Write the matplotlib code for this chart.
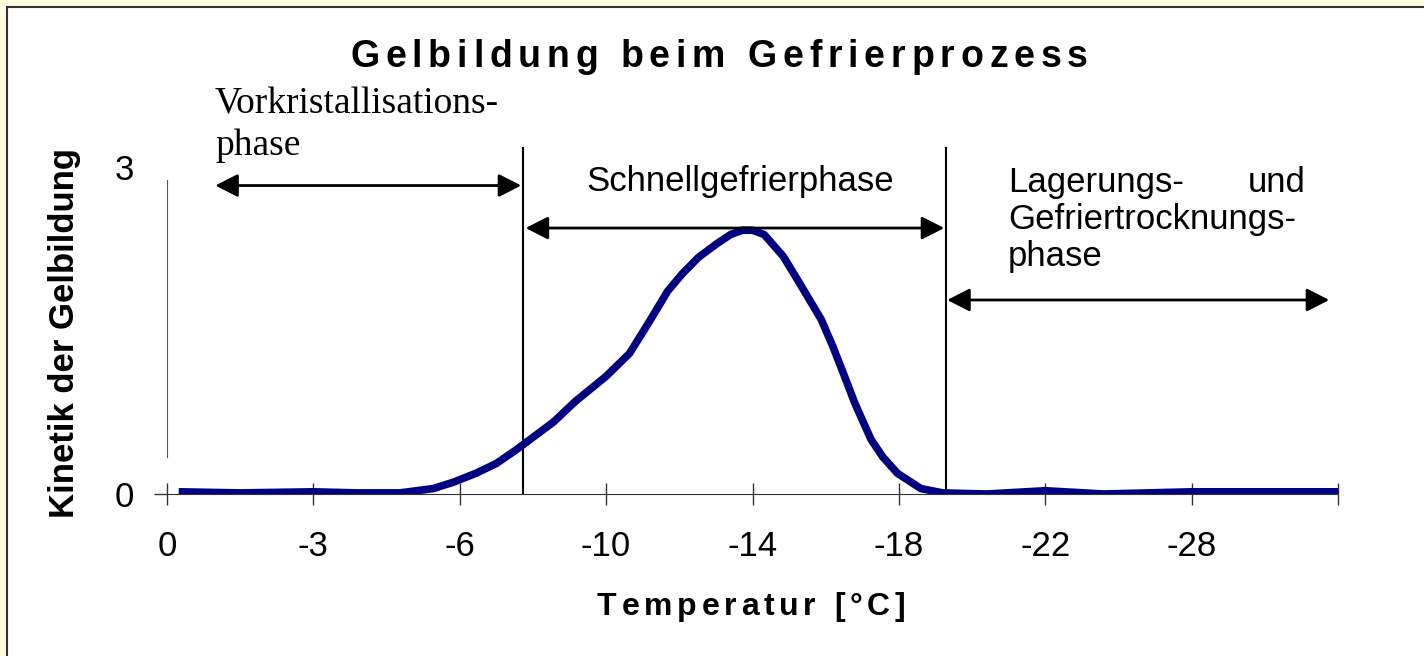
import matplotlib.pyplot as plt
from matplotlib.patches import Rectangle

# Daten (Kategorieposition auf der x-Achse, Kinetik)
temp_labels = ['0', '-3', '-6', '-10', '-14', '-18', '-22', '-28', '']
kurve_pos = [0.08, 0.5, 1.0, 1.3, 1.59, 1.82, 1.96, 2.11, 2.25, 2.38, 2.64, 2.79,
             3.00, 3.16, 3.29, 3.42, 3.52, 3.63, 3.76, 3.85, 3.93, 4.0, 4.08, 4.21,
             4.31, 4.39, 4.47, 4.55, 4.62, 4.70, 4.75, 4.81, 4.89, 4.99, 5.15, 5.30,
             5.6, 6.0, 6.4, 7.0, 7.5, 8.0]
kurve_wert = [0.02, 0.01, 0.02, 0.01, 0.01, 0.05, 0.11, 0.19, 0.28, 0.40, 0.66, 0.85,
              1.08, 1.29, 1.57, 1.86, 2.02, 2.17, 2.30, 2.38, 2.42, 2.42, 2.38, 2.18,
              1.96, 1.78, 1.60, 1.35, 1.11, 0.83, 0.68, 0.50, 0.34, 0.19, 0.05, 0.01,
              0.0, 0.03, 0.0, 0.02, 0.02, 0.02]

phasen_grenzen = [2.43, 5.32]

W, H = 1424, 656
fig = plt.figure(figsize=(W / 100, H / 100), dpi=100, facecolor='#FFFFE0')
renderer = fig.canvas.get_renderer()

# weisser Rahmen
fig.patches.append(Rectangle((7 / W, -0.05), 1.1, 1 - 7 / H + 0.05, transform=fig.transFigure,
                             facecolor='white', edgecolor='#333333', linewidth=1.5, zorder=-5))

ax = fig.add_axes([167 / W, 1 - 494 / H, 1171 / W, 327 / H])
ax.set_zorder(2)
ax.set_facecolor('none')
ax.set_xlim(0, 8)
ax.set_ylim(0, 3)

ax.plot(kurve_pos, kurve_wert, color='#000080', linewidth=5.5, solid_capstyle='butt',
        solid_joinstyle='round', zorder=3)

for gx in phasen_grenzen:
    ax.plot([gx, gx], [0, 3.17], color='black', linewidth=1.5, clip_on=False, zorder=2)

# Spines
for s in ['top', 'right']:
    ax.spines[s].set_visible(False)
ax.spines['bottom'].set_color('#333333')
ax.spines['left'].set_color('#555555')
ax.spines['left'].set_linewidth(0.8)
ax.spines['left'].set_bounds(0.34, 2.88)

ax.set_xticks(range(len(temp_labels)))
ax.set_xticklabels(temp_labels, fontsize=25, family='Liberation Sans')
ax.tick_params(axis='x', direction='inout', length=16, width=1, color='#333333', pad=18)
ax.set_yticks([0, 3])
ax.set_yticklabels(['0', '3'], fontsize=25, family='Liberation Sans')
ax.tick_params(axis='y', direction='out', length=9.4, width=1, color='#333333', pad=14)
ax.yaxis.get_major_ticks()[1].tick1line.set_visible(False)

# Pfeile
pfeil = dict(arrowstyle='<|-|>,head_length=0.55,head_width=0.28', color='black', lw=2,
             shrinkA=0, shrinkB=0, mutation_scale=25)
ax.annotate('', xy=(0.33, 2.83), xytext=(2.42, 2.83), arrowprops=pfeil, annotation_clip=False)
ax.annotate('', xy=(2.45, 2.44), xytext=(5.31, 2.44), arrowprops=pfeil, annotation_clip=False)
ax.annotate('', xy=(5.33, 1.78), xytext=(7.94, 1.78), arrowprops=pfeil, annotation_clip=False)


def gesperrt(text, x0, x1, y, size):
    # Text mit Sperrung zwischen x0 und x1 (Pixel) verteilen
    stuecke = []
    breiten = []
    for ch in text:
        t = fig.text(0, 1 - y / H, ch, fontsize=size, fontweight='bold',
                     family='Liberation Sans', va='center', ha='left')
        bb = t.get_window_extent(renderer)
        stuecke.append(t)
        breiten.append(bb.width)
    # Leerzeichen haben bbox-Breite 0 -> feste Breite
    leer = size * 100 / 72 * 0.278
    breiten = [b if ch != ' ' else leer for b, ch in zip(breiten, text)]
    extra = (x1 - x0 - sum(breiten)) / (len(text) - 1)
    x = x0
    for t, b in zip(stuecke, breiten):
        t.set_x(x / W)
        x += b + extra


gesperrt('Gelbildung beim Gefrierprozess', 350, 1088, 57, 27)
gesperrt('Temperatur [°C]', 597, 905, 607, 23)

fam = ['Liberation Sans', 'DejaVu Sans']
fig.text(65 / W, 1 - 333 / H, 'Kinetik der Gelbildung', ha='center', va='center', rotation=90,
         fontsize=25, fontweight='bold', family=fam)

fig.text(215 / W, 1 - 113 / H, 'Vorkristallisations-', ha='left', va='baseline',
         fontsize=27, family='Liberation Serif')
fig.text(215 / W, 1 - 155 / H, 'phase', ha='left', va='baseline',
         fontsize=27, family='Liberation Serif')
fig.text(740 / W, 1 - 182 / H, 'Schnellgefrierphase', ha='center', va='center',
         fontsize=25, family='Liberation Sans')
fig.text(1008 / W, 1 - 192 / H, 'Lagerungs-', ha='left', va='baseline',
         fontsize=25, family='Liberation Sans')
fig.text(1306 / W, 1 - 192 / H, 'und', ha='right', va='baseline',
         fontsize=25, family='Liberation Sans')
fig.text(1008 / W, 1 - 229 / H, 'Gefriertrocknungs-', ha='left', va='baseline',
         fontsize=25, family='Liberation Sans')
fig.text(1008 / W, 1 - 266 / H, 'phase', ha='left', va='baseline',
         fontsize=25, family='Liberation Sans')

fig.savefig('out.png', dpi=100, facecolor=fig.get_facecolor())
